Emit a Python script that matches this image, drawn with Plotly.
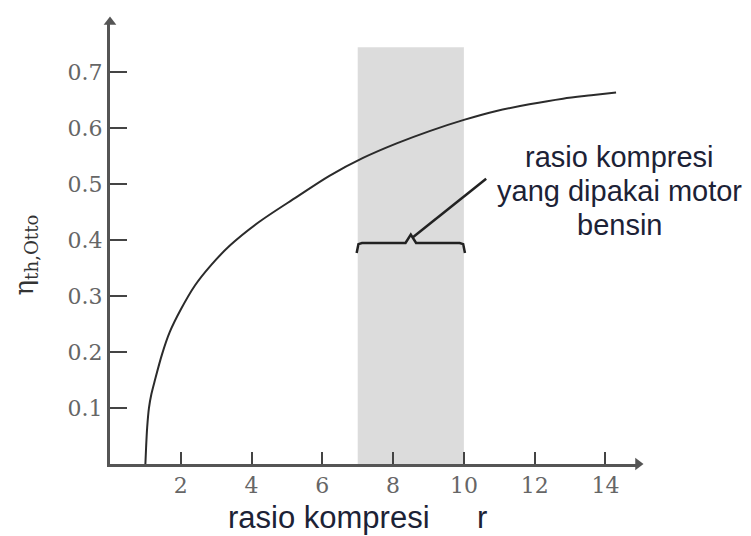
import plotly.graph_objects as go

# Otto-cycle thermal efficiency versus compression ratio
r_vals = [1.00, 1.02, 1.05, 1.10, 1.17, 1.27, 1.47, 1.69, 2.0, 2.4, 2.85, 3.38, 4.2, 5.27,
          6.2, 7.15, 8.1, 9.03, 10.0, 10.92, 11.85, 12.8, 13.6, 14.3]
eta_vals = [0.00, 0.03, 0.065, 0.10, 0.125, 0.15, 0.196, 0.236, 0.276, 0.319, 0.355, 0.390,
            0.432, 0.477, 0.515, 0.547, 0.573, 0.595, 0.615, 0.631, 0.643, 0.653, 0.659, 0.664]

# compression-ratio range used by petrol engines
band_r = [7, 10]
band_top = 0.745
bracket_eta = 0.395
leader_end = (10.63, 0.51)

x_ticks = [2, 4, 6, 8, 10, 12, 14]
y_ticks = [0.1, 0.2, 0.3, 0.4, 0.5, 0.6, 0.7]
x_max, y_max = 14.92, 0.79

note_lines = ["rasio kompresi", "yang dipakai motor", "bensin"]
x_title = "rasio kompresi"
x_symbol = "r"

ink = "#2b2b2b"
txt = "#1c2236"
axis_col = "#555"

fig = go.Figure()

fig.add_shape(type="rect", x0=band_r[0], x1=band_r[1], y0=0, y1=band_top,
              fillcolor="#dcdcdc", line_width=0, layer="below")

fig.add_trace(go.Scatter(x=r_vals, y=eta_vals, mode="lines",
                         line=dict(color=ink, width=2, shape="spline", smoothing=0.9),
                         hoverinfo="skip", showlegend=False))

# curly bracket spanning the band, with a central cusp
a, b = band_r
mid = (a + b) / 2
h = 0.018
bx = [a - 0.03, a + 0.02, a + 0.12, mid - 0.15, mid, mid + 0.15, b - 0.12, b - 0.02, b + 0.03]
by = [bracket_eta - h, bracket_eta - 0.002, bracket_eta, bracket_eta, bracket_eta + 0.015,
      bracket_eta, bracket_eta, bracket_eta - 0.002, bracket_eta - h]
fig.add_trace(go.Scatter(x=bx, y=by, mode="lines", line=dict(color="#222", width=2.5),
                         hoverinfo="skip", showlegend=False))
fig.add_trace(go.Scatter(x=[mid + 0.05, leader_end[0]], y=[bracket_eta + 0.01, leader_end[1]],
                         mode="lines", line=dict(color="#222", width=2.5),
                         hoverinfo="skip", showlegend=False))

# arrowheads at the axis ends
fig.add_trace(go.Scatter(x=[x_max], y=[0], mode="markers", cliponaxis=False,
                         marker=dict(symbol="triangle-right", size=11, color=axis_col),
                         hoverinfo="skip", showlegend=False))
fig.add_trace(go.Scatter(x=[0], y=[y_max], mode="markers", cliponaxis=False,
                         marker=dict(symbol="triangle-up", size=11, color=axis_col),
                         hoverinfo="skip", showlegend=False))

# annotation text
for i, line in enumerate(note_lines):
    fig.add_annotation(x=14.4, y=0.548 - i * 0.06, xref="x", yref="y", text=line,
                       showarrow=False, xanchor="center", yanchor="middle",
                       font=dict(family="Liberation Sans, Arial", size=29, color=txt))

# axis titles
fig.add_annotation(x=6.18, y=-0.122, xref="x", yref="paper", text=x_title, showarrow=False,
                   xanchor="center", yanchor="middle",
                   font=dict(family="Liberation Sans, Arial", size=31, color=txt))
fig.add_annotation(x=10.5, y=-0.122, xref="x", yref="paper", text=x_symbol, showarrow=False,
                   xanchor="center", yanchor="middle",
                   font=dict(family="Liberation Sans, Arial", size=31, color=txt))
fig.add_annotation(x=-0.16, y=0.473, xref="paper", yref="paper",
                   text="η<sub>th,Otto</sub>", textangle=-90, showarrow=False,
                   xanchor="center", yanchor="middle",
                   font=dict(family="DejaVu Serif, serif", size=26, color="#333"))

axis_font = dict(family="DejaVu Serif, serif", size=22, color="#666")
fig.update_xaxes(range=[0, x_max], tickvals=x_ticks, ticktext=[str(v) for v in x_ticks],
                 showline=True, linecolor=axis_col, linewidth=3, ticks="inside", ticklen=12,
                 tickwidth=2, tickcolor="#444", showgrid=False, zeroline=False,
                 tickfont=axis_font, fixedrange=True)
fig.update_yaxes(range=[0, y_max], tickvals=y_ticks, ticktext=[f"{v:.1f}" for v in y_ticks],
                 showline=True, linecolor=axis_col, linewidth=3, ticks="inside", ticklen=17,
                 tickwidth=2, tickcolor="#444", showgrid=False, zeroline=False,
                 tickfont=axis_font, fixedrange=True)

fig.update_layout(width=751, height=536, margin=dict(l=110, r=113, t=22, b=72),
                  plot_bgcolor="white", paper_bgcolor="white", showlegend=False)

fig.write_html("out.html")
